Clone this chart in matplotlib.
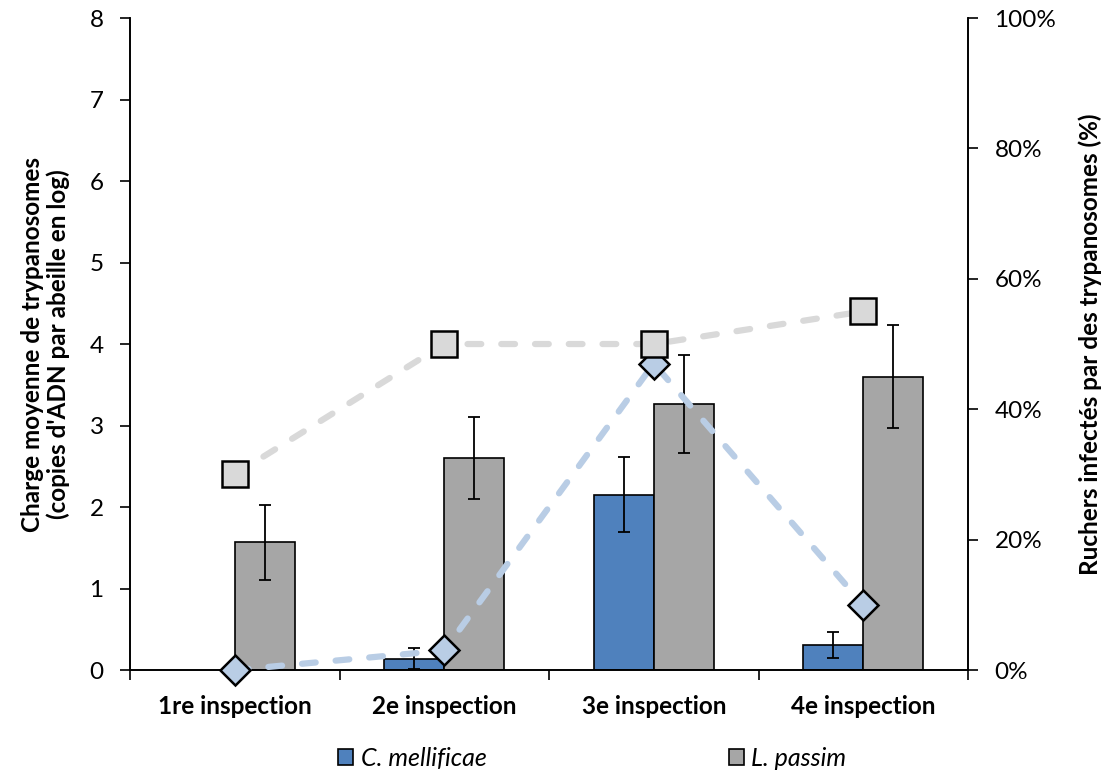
import matplotlib
matplotlib.use("Agg")
import matplotlib.pyplot as plt
import numpy as np
from matplotlib.ticker import PercentFormatter

plt.rcParams["font.family"] = ["Lato", "DejaVu Sans"]

inspections = ["1re inspection", "2e inspection", "3e inspection", "4e inspection"]

# charge moyenne (log copies ADN / abeille) et erreurs
charge_cm = [0.0, 0.14, 2.15, 0.31]
err_cm = [0.0, 0.13, 0.46, 0.16]
charge_lp = [1.57, 2.60, 3.26, 3.60]
err_lp = [0.46, 0.50, 0.60, 0.63]

# ruchers infectés (%)
ruchers_cm = [0, 3, 47, 10]
ruchers_lp = [30, 50, 50, 55]

blue = "#4F81BD"
gray = "#A6A6A6"
light_blue = "#B9CDE5"
light_gray = "#D9D9D9"

fig = plt.figure(figsize=(11.03, 7.73), dpi=100)
ax = fig.add_axes([0.1179, 0.1332, 0.7597, 0.8435])
ax2 = ax.twinx()

x = np.arange(len(inspections)) + 0.5
w = 0.286

cm_mask = np.array(charge_cm) > 0
ax.bar(x[cm_mask] - w / 2, np.array(charge_cm)[cm_mask], w, color=blue,
       edgecolor="black", linewidth=1.2, label="C. mellificae", zorder=2)
ax.errorbar(x[cm_mask] - w / 2, np.array(charge_cm)[cm_mask],
            yerr=np.array(err_cm)[cm_mask], fmt="none", ecolor="black",
            elinewidth=1.3, capsize=4.2, capthick=1.3, zorder=3)
ax.bar(x + w / 2, charge_lp, w, color=gray, edgecolor="black",
       linewidth=1.2, label="L. passim", zorder=2)
ax.errorbar(x + w / 2, charge_lp, yerr=err_lp, fmt="none", ecolor="black",
            elinewidth=1.3, capsize=4.2, capthick=1.3, zorder=3)

ax.set_xlim(0, 4)
ax.set_ylim(0, 8)
ax.set_yticks(range(0, 9))
ax.set_xticks([0, 1, 2, 3, 4])
ax.set_xticklabels([])
ax.set_xticks(x, minor=True)
ax.set_xticklabels(inspections, minor=True, fontsize=17.5, fontweight="bold")
ax.tick_params(axis="x", which="minor", length=0, pad=18)
ax.tick_params(axis="x", which="major", length=7, width=1.2, direction="out")
ax.tick_params(axis="y", length=7, width=1.2, labelsize=17.5, pad=12)
ax.set_ylabel("Charge moyenne de trypanosomes\n(copies d'ADN par abeille en log)",
              fontsize=17.5, fontweight="bold", labelpad=14, linespacing=1.15)

# courbes des ruchers infectés, marqueurs au-dessus des barres
dash = (0, (2.2, 3.2))
ax2.plot(x, ruchers_cm, linestyle=dash, color=light_blue, linewidth=4.5,
         dash_capstyle="round", marker="D", markersize=15,
         markerfacecolor=light_blue, markeredgecolor="black",
         markeredgewidth=1.8, zorder=4, clip_on=False)
ax2.plot(x, ruchers_lp, linestyle=dash, color=light_gray, linewidth=4.5,
         dash_capstyle="round", marker="s", markersize=19,
         markerfacecolor=light_gray, markeredgecolor="black",
         markeredgewidth=1.8, zorder=5, clip_on=False)
ax2.set_ylim(0, 100)
ax2.set_yticks(range(0, 101, 20))
ax2.yaxis.set_major_formatter(PercentFormatter(decimals=0))
ax2.tick_params(axis="y", length=7, width=1.2, labelsize=17.5, pad=12)
ax2.set_ylabel("Ruchers infectés par des trypanosomes (%)", fontsize=17.5,
               fontweight="bold", labelpad=16)

for a in (ax, ax2):
    a.spines["top"].set_visible(False)
    for s in ("left", "right", "bottom"):
        a.spines[s].set_linewidth(1.2)

fig.legend(loc="center", bbox_to_anchor=(0.537, 0.019), ncol=2,
           frameon=False, prop={"style": "italic", "size": 18},
           handlelength=0.6, handleheight=0.6, handletextpad=0.3,
           columnspacing=9.7, borderpad=0)

fig.savefig("out.png", dpi=100)
